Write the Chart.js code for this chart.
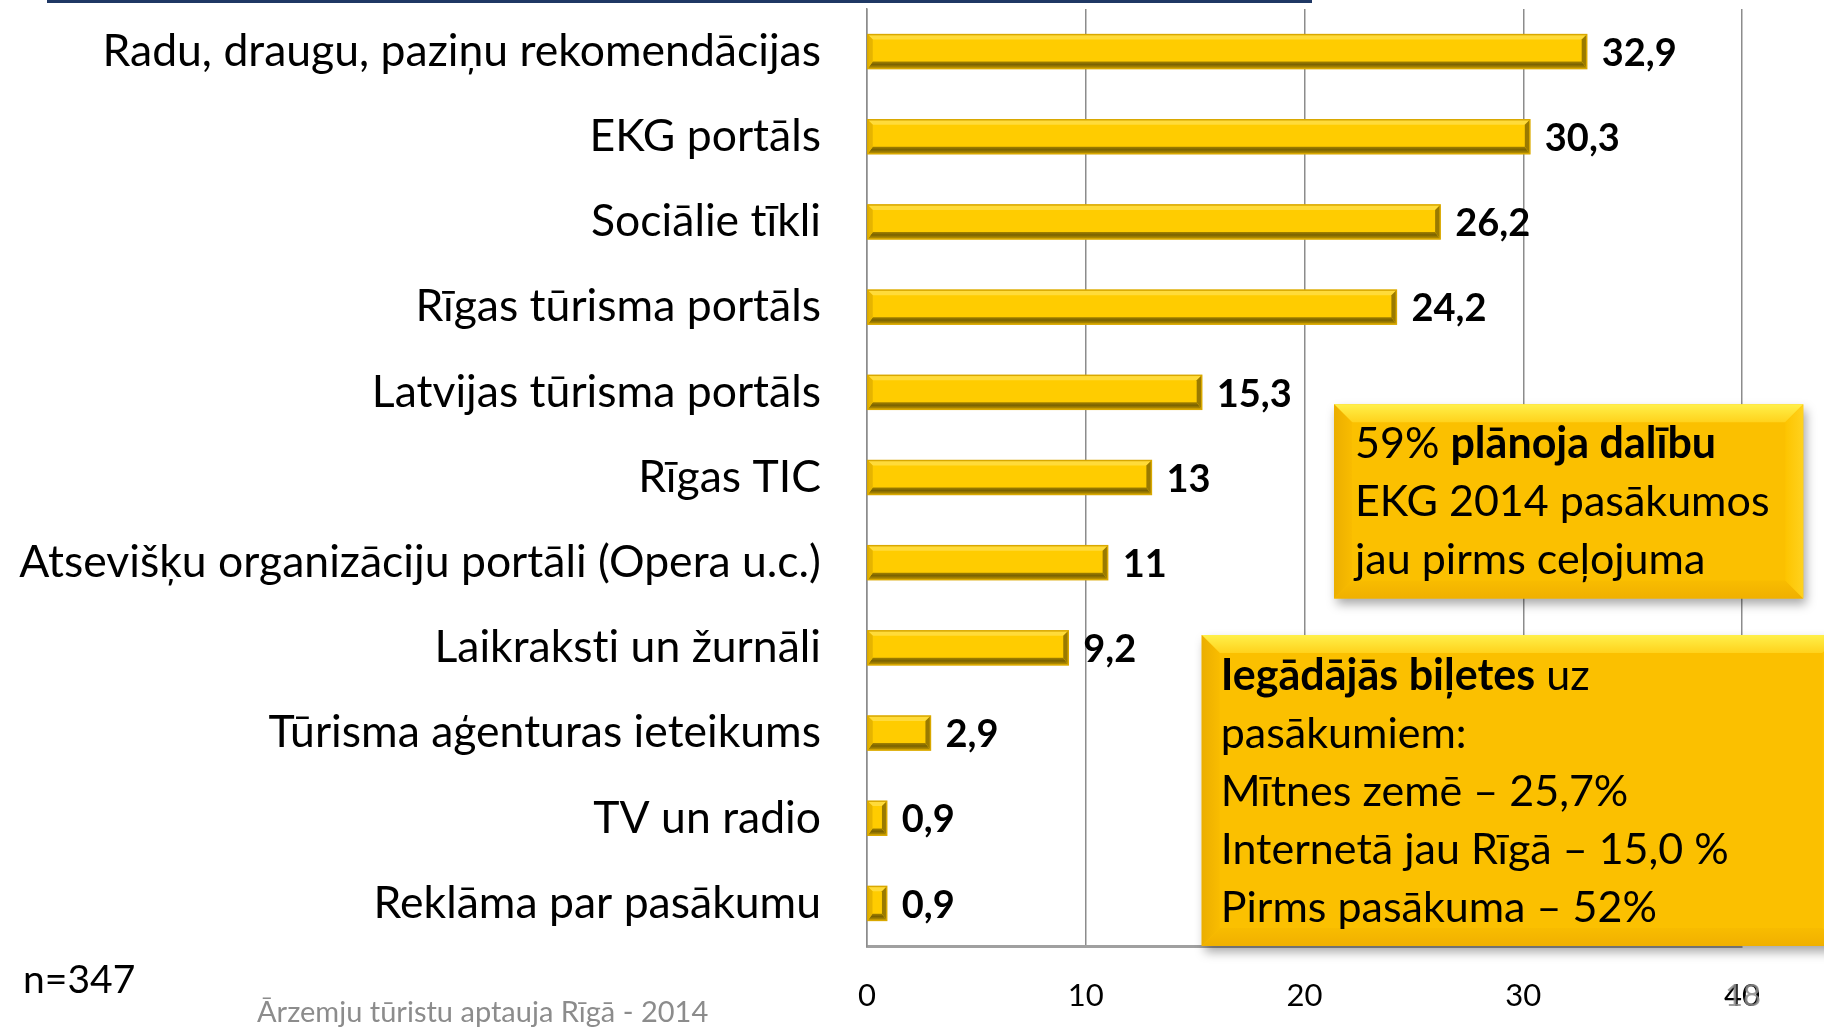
<!DOCTYPE html>
<html>
<head>
<meta charset="utf-8">
<script src="https://cdn.jsdelivr.net/npm/chart.js@4"></script>
<style>
  html, body { margin: 0; padding: 0; background: #fff; }
  #wrap { position: relative; width: 1824px; height: 1029px; }
</style>
</head>
<body>
<div id="wrap"><canvas id="c"></canvas></div>
<script>
// categories (top to bottom) and their shares, %
const categories = [
  "Radu, draugu, paziņu rekomendācijas",
  "EKG portāls",
  "Sociālie tīkli",
  "Rīgas tūrisma portāls",
  "Latvijas tūrisma portāls",
  "Rīgas TIC",
  "Atsevišķu organizāciju portāli (Opera u.c.)",
  "Laikraksti un žurnāli",
  "Tūrisma aģenturas ieteikums",
  "TV un radio",
  "Reklāma par pasākumu"
];
const values = [32.9, 30.3, 26.2, 24.2, 15.3, 13, 11, 9.2, 2.9, 0.9, 0.9];
const xTicks = [0, 10, 20, 30, 40];

// text of the two call-out boxes, [text, bold]
const box1Lines = [
  [["59% ", false], ["plānoja dalību", true]],
  [["EKG 2014 pasākumos", false]],
  [["jau pirms ceļojuma", false]]
];
const box2Lines = [
  [["Iegādājās biļetes", true], [" uz", false]],
  [["pasākumiem:", false]],
  [["Mītnes zemē – 25,7%", false]],
  [["Internetā jau Rīgā – 15,0 %", false]],
  [["Pirms pasākuma – 52%", false]]
];
const sampleNote = "n=347";
const sourceNote = "Ārzemju tūristu aptauja Rīgā - 2014";
const slideNo = "18";

const FONT = "Lato, 'Open Sans', sans-serif";

function fmt(v) { return String(v).replace(".", ","); }

// bevel look on each bar
const barBevel = {
  id: "barBevel",
  afterDatasetsDraw(chart) {
    const ctx = chart.ctx;
    const meta = chart.getDatasetMeta(0);
    meta.data.forEach((bar, i) => {
      const p = bar.getProps(["x", "y", "base", "height"], true);
      const l = p.base, r = p.x, t = p.y - p.height / 2, b = p.y + p.height / 2;
      const bw = Math.min(5, (r - l) / 4);
      ctx.save();
      // top light
      ctx.fillStyle = "#FFDB3A";
      ctx.beginPath();
      ctx.moveTo(l, t); ctx.lineTo(r, t); ctx.lineTo(r - bw, t + bw); ctx.lineTo(l + bw, t + bw); ctx.closePath(); ctx.fill();
      // bottom dark
      const g = ctx.createLinearGradient(0, b - bw - 3, 0, b);
      g.addColorStop(0, "#B08C00");
      g.addColorStop(0.5, "#7A6200");
      g.addColorStop(1, "#C49A00");
      ctx.fillStyle = g;
      ctx.beginPath();
      ctx.moveTo(l, b); ctx.lineTo(r, b); ctx.lineTo(r - bw, b - bw - 2); ctx.lineTo(l + bw, b - bw - 2); ctx.closePath(); ctx.fill();
      // right dark
      ctx.fillStyle = "#9A7A00";
      ctx.beginPath();
      ctx.moveTo(r, t); ctx.lineTo(r, b); ctx.lineTo(r - bw, b - bw - 2); ctx.lineTo(r - bw, t + bw); ctx.closePath(); ctx.fill();
      // left mid
      ctx.fillStyle = "#E6B400";
      ctx.beginPath();
      ctx.moveTo(l, t); ctx.lineTo(l, b); ctx.lineTo(l + bw, b - bw - 2); ctx.lineTo(l + bw, t + bw); ctx.closePath(); ctx.fill();
      ctx.strokeStyle = "#D9A800";
      ctx.lineWidth = 1.5;
      ctx.strokeRect(l, t, r - l, b - t);
      // value label
      ctx.fillStyle = "#000";
      ctx.font = "bold 38px " + FONT;
      ctx.textAlign = "left";
      ctx.textBaseline = "middle";
      ctx.fillText(fmt(values[i]), r + 15, p.y + 2);
      ctx.restore();
    });
  }
};

function drawBox(ctx, x1, y1, x2, y2) {
  const bw = 18;
  ctx.save();
  ctx.shadowColor = "rgba(0,0,0,0.35)";
  ctx.shadowBlur = 10;
  ctx.shadowOffsetX = 3;
  ctx.shadowOffsetY = 6;
  ctx.fillStyle = "#FBC000";
  ctx.fillRect(x1, y1, x2 - x1, y2 - y1);
  ctx.restore();
  ctx.save();
  const poly = (pts, fill) => {
    ctx.fillStyle = fill;
    ctx.beginPath();
    ctx.moveTo(pts[0][0], pts[0][1]);
    for (let k = 1; k < pts.length; k++) ctx.lineTo(pts[k][0], pts[k][1]);
    ctx.closePath();
    ctx.fill();
  };
  const gt = ctx.createLinearGradient(0, y1, 0, y1 + bw);
  gt.addColorStop(0, "#FFF04A"); gt.addColorStop(1, "#FFD21C");
  poly([[x1, y1], [x2, y1], [x2 - bw, y1 + bw], [x1 + bw, y1 + bw]], gt);
  const gl = ctx.createLinearGradient(x1, 0, x1 + bw, 0);
  gl.addColorStop(0, "#EBAE00"); gl.addColorStop(1, "#F9BC00");
  poly([[x1, y1], [x1 + bw, y1 + bw], [x1 + bw, y2 - bw], [x1, y2]], gl);
  const gb = ctx.createLinearGradient(0, y2 - bw, 0, y2);
  gb.addColorStop(0, "#F8BC00"); gb.addColorStop(1, "#F0B000");
  poly([[x1, y2], [x1 + bw, y2 - bw], [x2 - bw, y2 - bw], [x2, y2]], gb);
  const gr = ctx.createLinearGradient(x2 - bw, 0, x2, 0);
  gr.addColorStop(0, "#FDC400"); gr.addColorStop(1, "#FFD21E");
  poly([[x2, y1], [x2, y2], [x2 - bw, y2 - bw], [x2 - bw, y1 + bw]], gr);
  ctx.restore();
}

function drawLines(ctx, lines, x, y, step) {
  ctx.save();
  ctx.fillStyle = "#000";
  ctx.textAlign = "left";
  ctx.textBaseline = "middle";
  lines.forEach((parts, k) => {
    let cx = x;
    parts.forEach(([txt, bold]) => {
      ctx.font = (bold ? "bold " : "") + "43px " + FONT;
      ctx.fillText(txt, cx, y + k * step);
      cx += ctx.measureText(txt).width;
    });
  });
  ctx.restore();
}

// call-out boxes and slide decorations
const extras = {
  id: "extras",
  beforeDraw(chart) {
    const ctx = chart.ctx;
    ctx.letterSpacing = "0.01px"; // keeps "ti" from turning into a ligature
    ctx.save();
    ctx.fillStyle = "#1F3864";
    ctx.fillRect(47, 0, 1265, 3);
    ctx.restore();
  },
  afterDraw(chart) {
    const ctx = chart.ctx;
    const xs = chart.scales.x, ys = chart.scales.y;
    // box 1
    let x1 = xs.getPixelForValue(21.35), x2 = xs.getPixelForValue(42.8);
    let y1 = ys.getPixelForValue(4.14), y2 = ys.getPixelForValue(6.42);
    drawBox(ctx, x1, y1, x2, y2);
    drawLines(ctx, box1Lines, x1 + 21, y1 + 40, 58);
    // box 2
    x1 = xs.getPixelForValue(15.3); x2 = xs.getPixelForValue(44.5);
    y1 = ys.getPixelForValue(6.85); y2 = ys.getPixelForValue(10.5);
    drawBox(ctx, x1, y1, x2, y2);
    drawLines(ctx, box2Lines, x1 + 19, y1 + 41, 58);
    // notes
    ctx.save();
    ctx.textBaseline = "middle";
    ctx.textAlign = "left";
    ctx.fillStyle = "#000";
    ctx.font = "39px " + FONT;
    ctx.fillText(sampleNote, 23, 980);
    ctx.fillStyle = "#8C8C8C";
    ctx.font = "29px " + FONT;
    ctx.fillText(sourceNote, 257, 1013);
    ctx.fillStyle = "rgba(140,140,140,0.85)";
    ctx.font = "31px " + FONT;
    ctx.textAlign = "center";
    ctx.fillText(slideNo, xs.getPixelForValue(40) + 1, 996);
    ctx.restore();
  }
};

const ctx = document.getElementById("c").getContext("2d");
new Chart(ctx, {
  type: "bar",
  data: {
    labels: categories,
    datasets: [{
      data: values,
      backgroundColor: "#FFCC00",
      borderWidth: 0,
      barThickness: 34
    }]
  },
  options: {
    indexAxis: "y",
    responsive: true,
    maintainAspectRatio: false,
    animation: false,
    devicePixelRatio: 1,
    layout: { padding: { top: 9, right: 82, left: 0, bottom: 0 } },
    plugins: { legend: { display: false }, tooltip: { enabled: false } },
    scales: {
      x: {
        min: 0,
        max: 40,
        afterBuildTicks: (s) => { s.ticks = xTicks.map(v => ({ value: v })); },
        afterFit: (s) => { s.height = 83; s.paddingLeft = 0; s.paddingRight = 0; },
        ticks: {
          color: "#000",
          font: { family: FONT, size: 31 },
          padding: 31,
          maxRotation: 0
        },
        grid: { color: "#8C8C8C", lineWidth: 1.5, drawTicks: false },
        border: { display: true, color: "#A0A0A0", width: 3 }
      },
      y: {
        afterFit: (s) => { s.width = 867; s.paddingTop = 0; s.paddingBottom = 0; },
        ticks: {
          color: "#000",
          font: { family: FONT, size: 44.5 },
          padding: 46
        },
        grid: { display: false, drawTicks: false },
        border: { display: true, color: "#8C8C8C", width: 1.5 }
      }
    }
  },
  plugins: [barBevel, extras]
});
</script>
</body>
</html>
